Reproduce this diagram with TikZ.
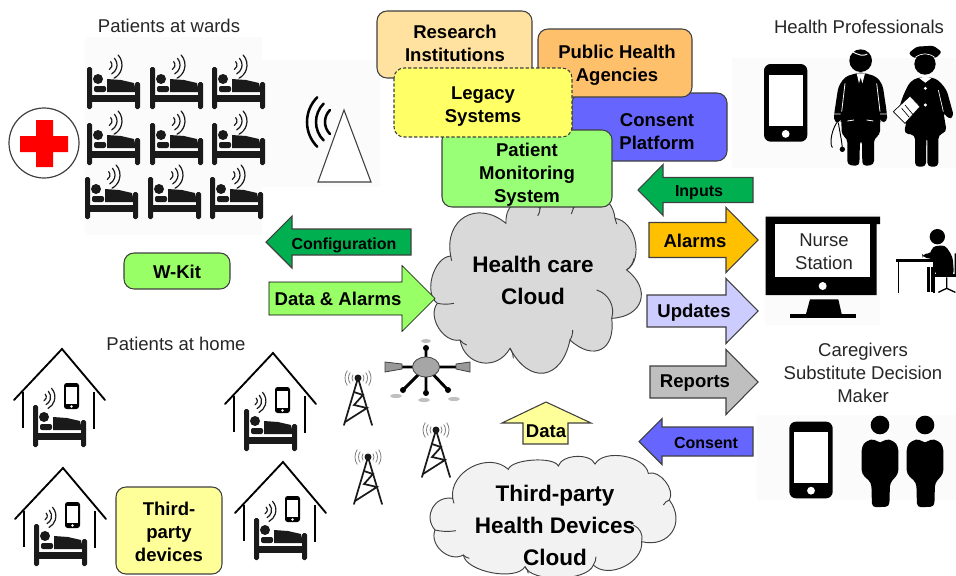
\documentclass[tikz,border=0pt]{standalone}
\usepackage{fontspec}
\setmainfont{Liberation Sans}
\definecolor{ink}{HTML}{1A1A1A}
\definecolor{edge}{HTML}{404040}
\definecolor{patch}{HTML}{FBFBFB}
\definecolor{cresearch}{HTML}{FFE29F}
\definecolor{cpublic}{HTML}{FFC06C}
\definecolor{cconsent}{HTML}{6666FF}
\definecolor{clegacy}{HTML}{FFFF66}
\definecolor{cpms}{HTML}{99FF77}
\definecolor{cthird}{HTML}{FFFF99}
\definecolor{cgreen}{HTML}{00B050}
\definecolor{cdata}{HTML}{99FF66}
\definecolor{calarm}{HTML}{FFC000}
\definecolor{cupdate}{HTML}{CCCCFF}
\definecolor{creport}{HTML}{BFBFBF}
\definecolor{ccloud}{HTML}{D9D9D9}
\definecolor{ccloudb}{HTML}{F2F2F2}
\tikzset{
  plain/.style={font=\fontsize{13.9}{17.25}\selectfont,align=center,inner sep=0pt,text=black!85},
  boldl/.style={font=\fontsize{13.9}{17.25}\selectfont\bfseries,align=center,inner sep=0pt},
  smalll/.style={font=\fontsize{12}{15}\selectfont\bfseries,align=center,inner sep=0pt},
  cloudl/.style={font=\fontsize{16.9}{24}\selectfont\bfseries,align=center,inner sep=0pt},
  boxed/.style={draw=edge,line width=.8pt,rounded corners=7.5pt},
  barrow/.style={draw=edge,line width=.8pt,line join=miter},
  lobe/.style={bend left=70,looseness=#1},
  wavel/.style={draw=ink,line width=.9pt,line cap=round},
  cloudline/.style={draw=edge,line width=.7pt},
  towerl/.style={draw=ink,line width=1.3pt,line cap=round},
}
% horizontal block arrow: style, tail, neck, tip, centre y, half shaft, half head
\newcommand{\hblock}[7]{%
  \draw[#1] (#2,{#5-#6}) -- (#3,{#5-#6}) -- (#3,{#5-#7}) -- (#4,#5) -- (#3,{#5+#7}) -- (#3,{#5+#6}) -- (#2,{#5+#6}) -- cycle;}
\newcommand{\bedbody}[2]{%
  \begin{scope}[shift={(#1,#2)}]
    \fill[ink,rounded corners=1.2pt] (0,0) rectangle (5,42);
    \fill[ink,rounded corners=1.2pt] (48,15) rectangle (53,42);
    \fill[ink] (0,28) rectangle (53,35);
    \fill[ink] (11,12) circle[radius=5];
    \fill[ink,rounded corners=1.5pt] (7,19) rectangle (19,25);
    \fill[ink] (20,12) -- (34,13) -- (47,16) -- (49,25) -- (20,25) -- cycle;
  \end{scope}}
\newcommand{\wavesicon}[3]{%
  \begin{scope}[shift={(#1,#2)},rotate=-10]
    \foreach \r in {#3,2*#3,3*#3}{
      \draw[wavel] (0,0) ++(-52:{\r}) arc[start angle=-52,end angle=52,radius={\r}];
    }
  \end{scope}}
\newcommand{\wardbed}[2]{%
  \bedbody{#1}{#2+14}
  \wavesicon{#1+20}{#2+12}{5}}
\newcommand{\phoneicon}[6]{% x1 y1 x2 y2 side inset, corner radius
  \fill[black,rounded corners=#6] (#1,#2) rectangle (#3,#4);
  \fill[white] ({#1+#5},{#2+(#4-#2)*.14}) rectangle ({#3-#5},{#2+(#4-#2)*.80});
  \fill[white] ({(#1+#3)/2},{#2+(#4-#2)*.90}) circle[radius={(#3-#1)*.09}];}
\newcommand{\houseicon}[2]{%
  \begin{scope}[shift={(#1,#2)}]
    \draw[black,line width=1.4pt,line cap=round,line join=miter] (-48,51) -- (0,0) -- (43,51);
    \draw[black,line width=1.4pt] (-39,43) -- (-39,79) (32,43) -- (32,80);
    \phoneicon{2}{34}{17}{60}{1.7}{2pt}
  \end{scope}
  \wavesicon{#1-20}{#2+48}{4.3}
  \bedbody{#1-29}{#2+56}}
\newcommand{\towericon}[2]{%
  \begin{scope}[shift={(#1,#2)}]
    \draw[towerl] (-14,47) -- (0,0) -- (14,47);
    \draw[towerl] (-4,14) -- (5,17) -- (-4,27) -- (9,30) -- (-13,44);
    \fill[ink] (0,0) circle[radius=3.5];
    \foreach \a in {0,180}{
      \foreach \r in {6,9.5,13}{
        \draw[gray,line width=.6pt] (0,0) ++({\a-35}:{\r}) arc[start angle={\a-35},end angle={\a+35},radius={\r}];
      }
    }
  \end{scope}}
\newcommand{\caregiverfig}[1]{%
  \begin{scope}[shift={(#1,0)}]
    \fill[black] (0,285) circle[radius=28];
    \fill[black,rounded corners=3pt] (-55,350) -- (-42,333) -- (-16,326) -- (0,342) -- (16,326) -- (42,333) -- (55,350) -- (55,432) -- (30,458) -- (28,530) -- (-24,532) -- (-26,458) -- (-55,432) -- cycle;
  \end{scope}}
\begin{document}
\begin{tikzpicture}[x=.75pt,y=-.75pt]
\useasboundingbox (0,0) rectangle (956,575);
\fill[white] (0,0) rectangle (956,575);
% faint image patches
\fill[patch] (85,37) rectangle (262,235);
\fill[patch] (262,60) rectangle (380,187);
\fill[patch] (732,58) rectangle (956,168);
\fill[patch] (757,415) rectangle (956,500);
\fill[patch] (765,213) rectangle (880,325);
% titles
\node[plain] (wards) at (169,26) {Patients at wards};
\node[plain] (home) at (176,344) {Patients at home};
\node[plain] (prof) at (859,27) {Health Professionals};
\node[plain] (care) at (863,373) {Caregivers\\Substitute Decision\\Maker};
% red cross
\draw[edge,fill=white,line width=.9pt] (44,143) circle[radius=35];
\fill[red] (36,120) rectangle (53,167) (20,136) rectangle (68,152);
% ward beds
\foreach \yy/\xx in {53/87,109/87,163/85}{
  \foreach \dx in {0,63,125}{
    \wardbed{\xx+\dx}{\yy}
  }
}
% antenna
\draw[edge,line width=.8pt,fill=white] (344,110) -- (318,182) -- (371,182) -- cycle;
\foreach \r in {17,26,35}{
  \draw[black,line width=1.9pt,line cap=round] (342,122) ++(135:{\r}) arc[start angle=135,end angle=225,radius={\r}];
}
% houses
\houseicon{62}{349}
\houseicon{273}{353}
\houseicon{63}{468}
\houseicon{283}{462}
% towers
\towericon{358}{378}
\towericon{436}{430}
\towericon{368}{457}
% hub
\draw[black,line width=2.2pt] (402,367) -- (456,367) (426,367) -- (426,348) (426,367) -- (426,393) (426,367) -- (403,390) (426,367) -- (448,390);
\fill[black] (426,348) circle[radius=3] (426,393) circle[radius=3] (403,390) circle[radius=3] (448,390) circle[radius=3];
\draw[edge,fill=gray!80,line width=.6pt] (385,362) -- (402,364) -- (402,369) -- (385,372) -- cycle;
\draw[edge,fill=gray!80,line width=.6pt] (470,362) -- (456,364) -- (456,369) -- (470,372) -- cycle;
\draw[edge,fill=gray!70,line width=.6pt] (426,367) ellipse[x radius=13.5,y radius=10];
\fill[gray!50] (396,396) ellipse[x radius=6,y radius=2] (424,400) ellipse[x radius=6,y radius=2] (454,399) ellipse[x radius=6,y radius=2] (426,341) ellipse[x radius=5,y radius=2];
% boxes behind the cloud
\draw[boxed,fill=cresearch] (377,11) rectangle (532,78);
\draw[boxed,fill=cconsent] (572,93) rectangle (727,161);
\draw[boxed,fill=cpublic] (538,29) rectangle (692,97);
\node[boldl] (research) at (455,43) {Research\\Institutions};
\node[boldl] (publich) at (617,65) {Public Health\\Agencies};
\node[boldl] (consentp) at (657,132) {Consent\\Platform};
% health care cloud, traced in 3x zoom coordinates
\begin{scope}[shift={(430,190)},x=.25pt,y=-.25pt]
  \draw[cloudline,fill=ccloud] (62,198) to[lobe=1.5] (228,100) to[lobe=1.5] (330,55) to[lobe=1.5] (430,55) to[lobe=1.5] (555,85) to[lobe=1] (590,240) to[lobe=1.6] (545,385) to[lobe=1.75] (420,450) to[lobe=1.75] (240,475) to[lobe=1.35] (90,450) to[lobe=1] (22,340) to[lobe=.9] cycle;
  \draw[cloudline] (500,300) to[bend left=45] (545,385);
  \draw[cloudline] (590,240) to[bend right=20] (612,205);
  \draw[cloudline] (240,475) to[bend left=15] (250,505);
  \draw[cloudline] (420,450) to[bend right=15] (428,420);
  \draw[cloudline] (90,450) to[bend right=15] (110,465);
  \draw[cloudline] (22,340) to[bend right=10] (72,340);
  \draw[cloudline] (62,198) to[bend right=15] (65,212);
  \draw[cloudline] (330,55) to[bend left=15] (323,78);
  \draw[cloudline] (430,55) to[bend right=15] (424,72);
  \draw[cloudline] (555,85) to[bend left=15] (560,102);
\end{scope}
\draw[boxed,fill=cpms] (442,130) rectangle (612,207);
\draw[boxed,fill=clegacy,dash pattern=on 2.5pt off 1.5pt] (394,68) rectangle (572,137);
\node[boldl] (legacy) at (483,107) {Legacy\\Systems};
\node[boldl] (pms) at (527,175) {Patient\\Monitoring\\System};
\node[cloudl] (hcc) at (533,280) {Health care\\Cloud};
% third-party cloud
\begin{scope}[shift={(430,190)},x=.25pt,y=-.25pt]
  \draw[cloudline,fill=ccloudb] (68,925) to[lobe=1.1] (235,838) to[lobe=.55] (385,828) to[lobe=.85] (495,822) to[lobe=.85] (655,850) to[lobe=.9] (718,930) to[lobe=1.45] (635,1055) to[lobe=1] (490,1125) to[lobe=.65] (285,1130) to[lobe=.7] (100,1095) to[lobe=1.1] (15,1020) to[lobe=1.3] cycle;
  \draw[cloudline] (15,1020) to[bend right=10] (78,1022);
  \draw[cloudline] (68,925) to[bend right=15] (72,940);
  \draw[cloudline] (100,1095) to[bend right=15] (118,1105);
  \draw[cloudline] (635,1055) to[bend right=40] (610,1005);
  \draw[cloudline] (285,1130) to[bend left=15] (295,1150);
  \draw[cloudline] (490,1125) to[bend right=15] (498,1100);
  \draw[cloudline] (718,930) to[bend right=20] (700,945);
\end{scope}
\node[cloudl] (tpc) at (555,525) {Third-party\\Health Devices\\Cloud};
% left panel boxes
\draw[boxed,fill=cdata] (124,253) rectangle (230,289);
\node[boldl] (wkit) at (177,272) {W-Kit};
\draw[boxed,fill=cthird] (116,487) rectangle (222,574);
\node[boldl] (tpd) at (169,532) {Third-\\party\\devices};
% block arrows
\hblock{barrow,fill=cgreen}{411}{292}{266}{242}{13}{26}
\node[smalll] (config) at (344,245) {Configuration};
\hblock{fill=cdata}{269}{402}{435}{298.5}{16.5}{33}
\node[boldl] (datal) at (338,299) {Data \& Alarms};
\hblock{barrow,fill=cgreen}{753}{663}{638}{190}{12.5}{25.5}
\node[smalll] (inputs) at (699,193) {Inputs};
\hblock{barrow,fill=calarm}{649}{726}{758}{240}{17.5}{32.5}
\node[boldl] (alarms) at (695,241) {Alarms};
\hblock{barrow,fill=cupdate}{647}{726}{758}{311}{16}{32.5}
\node[boldl] (updates) at (694,313) {Updates};
\hblock{barrow,fill=creport}{650}{726}{758}{382}{16}{32.5}
\node[boldl] (reports) at (695,383) {Reports};
\hblock{barrow,fill=cconsent}{753}{662}{639}{441.5}{14.5}{23}
\node[smalll] (consentl) at (706,443) {Consent};
\draw[barrow,fill=cthird] (523,444) -- (523,423) -- (502,423) -- (546,402) -- (591,423) -- (568,423) -- (568,444) -- cycle;
\node[boldl] (datau) at (546,431) {Data};
% health professionals, in 3x zoom coordinates
\begin{scope}[shift={(730,40)},x=.25pt,y=-.25pt]
  \phoneicon{102}{72}{232}{305}{14}{5pt}
  % doctor
  \fill[black] (392,62) circle[radius=34];
  \draw[white,line width=.7pt] (365,34) .. controls (385,45) and (400,50) .. (412,42);
  \fill[black,rounded corners=3pt] (385,98) -- (345,110) -- (325,140) -- (312,225) -- (313,248) -- (330,248) -- (334,235) -- (335,285) -- (352,295) -- (352,375) -- (388,378) -- (390,300) -- (396,300) -- (397,378) -- (432,375) -- (432,295) -- (450,285) -- (450,235) -- (452,248) -- (472,245) -- (470,215) -- (458,135) -- (440,110) -- (400,98) -- cycle;
  \fill[white] (380,100) -- (405,100) -- (397,130) -- (392,112) -- (387,130) -- cycle;
  \draw[white,line width=.6pt] (352,243) -- (372,240) (410,240) -- (430,243) (313,222) -- (332,222) (450,222) -- (471,222) (345,130) -- (335,215) (440,130) -- (450,215);
  \draw[black,line width=.7pt] (320,248) .. controls (300,280) and (300,320) .. (308,322) (325,248) .. controls (330,280) and (335,300) .. (337,325);
  \fill[black] (337,328) circle[radius=8];
  % nurse
  \fill[black] (585,72) circle[radius=32];
  \fill[black,rounded corners=2pt] (535,40) -- (560,20) -- (610,17) -- (636,36) -- (615,56) -- (585,40) -- (555,56) -- cycle;
  \draw[white,line width=.5pt] (556,52) .. controls (575,38) and (595,38) .. (614,52);
  \fill[black,rounded corners=3pt] (565,112) -- (540,125) -- (520,165) -- (500,225) -- (520,240) -- (530,240) -- (522,280) -- (555,285) -- (555,380) -- (588,380) -- (589,290) -- (592,290) -- (592,380) -- (625,380) -- (625,285) -- (650,275) -- (640,215) -- (655,238) -- (672,230) -- (650,150) -- (625,120) -- (605,112) -- cycle;
  \draw[white,fill=white] (570,115) -- (586,127) -- (602,115) -- (586,110) -- cycle;
  \fill[white] (586,145) circle[radius=5] (586,195) circle[radius=5];
  \draw[white,line width=.5pt] (625,150) -- (640,215);
  \draw[black,fill=white,line width=.5pt] (490,215) -- (540,168) -- (570,200) -- (525,250) -- cycle;
  \draw[black,line width=.5pt] (525,195) -- (550,225) (515,205) -- (538,232);
  % monitor
  \fill[black] (107,530) -- (450,530) -- (450,552) -- (440,552) -- (440,765) -- (107,765) -- cycle;
  \fill[white] (135,553) rectangle (420,710);
  \fill[white] (278,738) circle[radius=12];
  \fill[black] (240,778) -- (325,778) -- (335,822) -- (228,822) -- cycle;
  \fill[black] (180,822) rectangle (378,833);
  % seated nurse
  \fill[black] (622,590) circle[radius=23];
  \fill[black,rounded corners=3pt] (605,620) -- (645,615) -- (668,650) -- (672,705) -- (615,705) -- (612,658) -- (578,652) -- (576,642) -- (605,640) -- cycle;
  \fill[black] (590,680) rectangle (612,755);
  \draw[white,line width=.5pt] (600,680) -- (600,755);
  \fill[black] (497,658) rectangle (620,666);
  \draw[black,line width=.8pt] (505,666) -- (505,760) (612,666) -- (612,760);
  \fill[black] (615,703) rectangle (678,712);
  \draw[black,line width=1pt] (650,712) -- (650,745) (625,757) -- (650,745) -- (676,757) (676,640) -- (676,703);
\end{scope}
\node[plain] (nurse) at (824,252) {Nurse\\Station};
% caregivers
\begin{scope}[shift={(740,330)},x=.25pt,y=-.25pt]
  \phoneicon{148}{275}{278}{505}{14}{5pt}
  \caregiverfig{420}
  \caregiverfig{555}
\end{scope}
\end{tikzpicture}
\end{document}
